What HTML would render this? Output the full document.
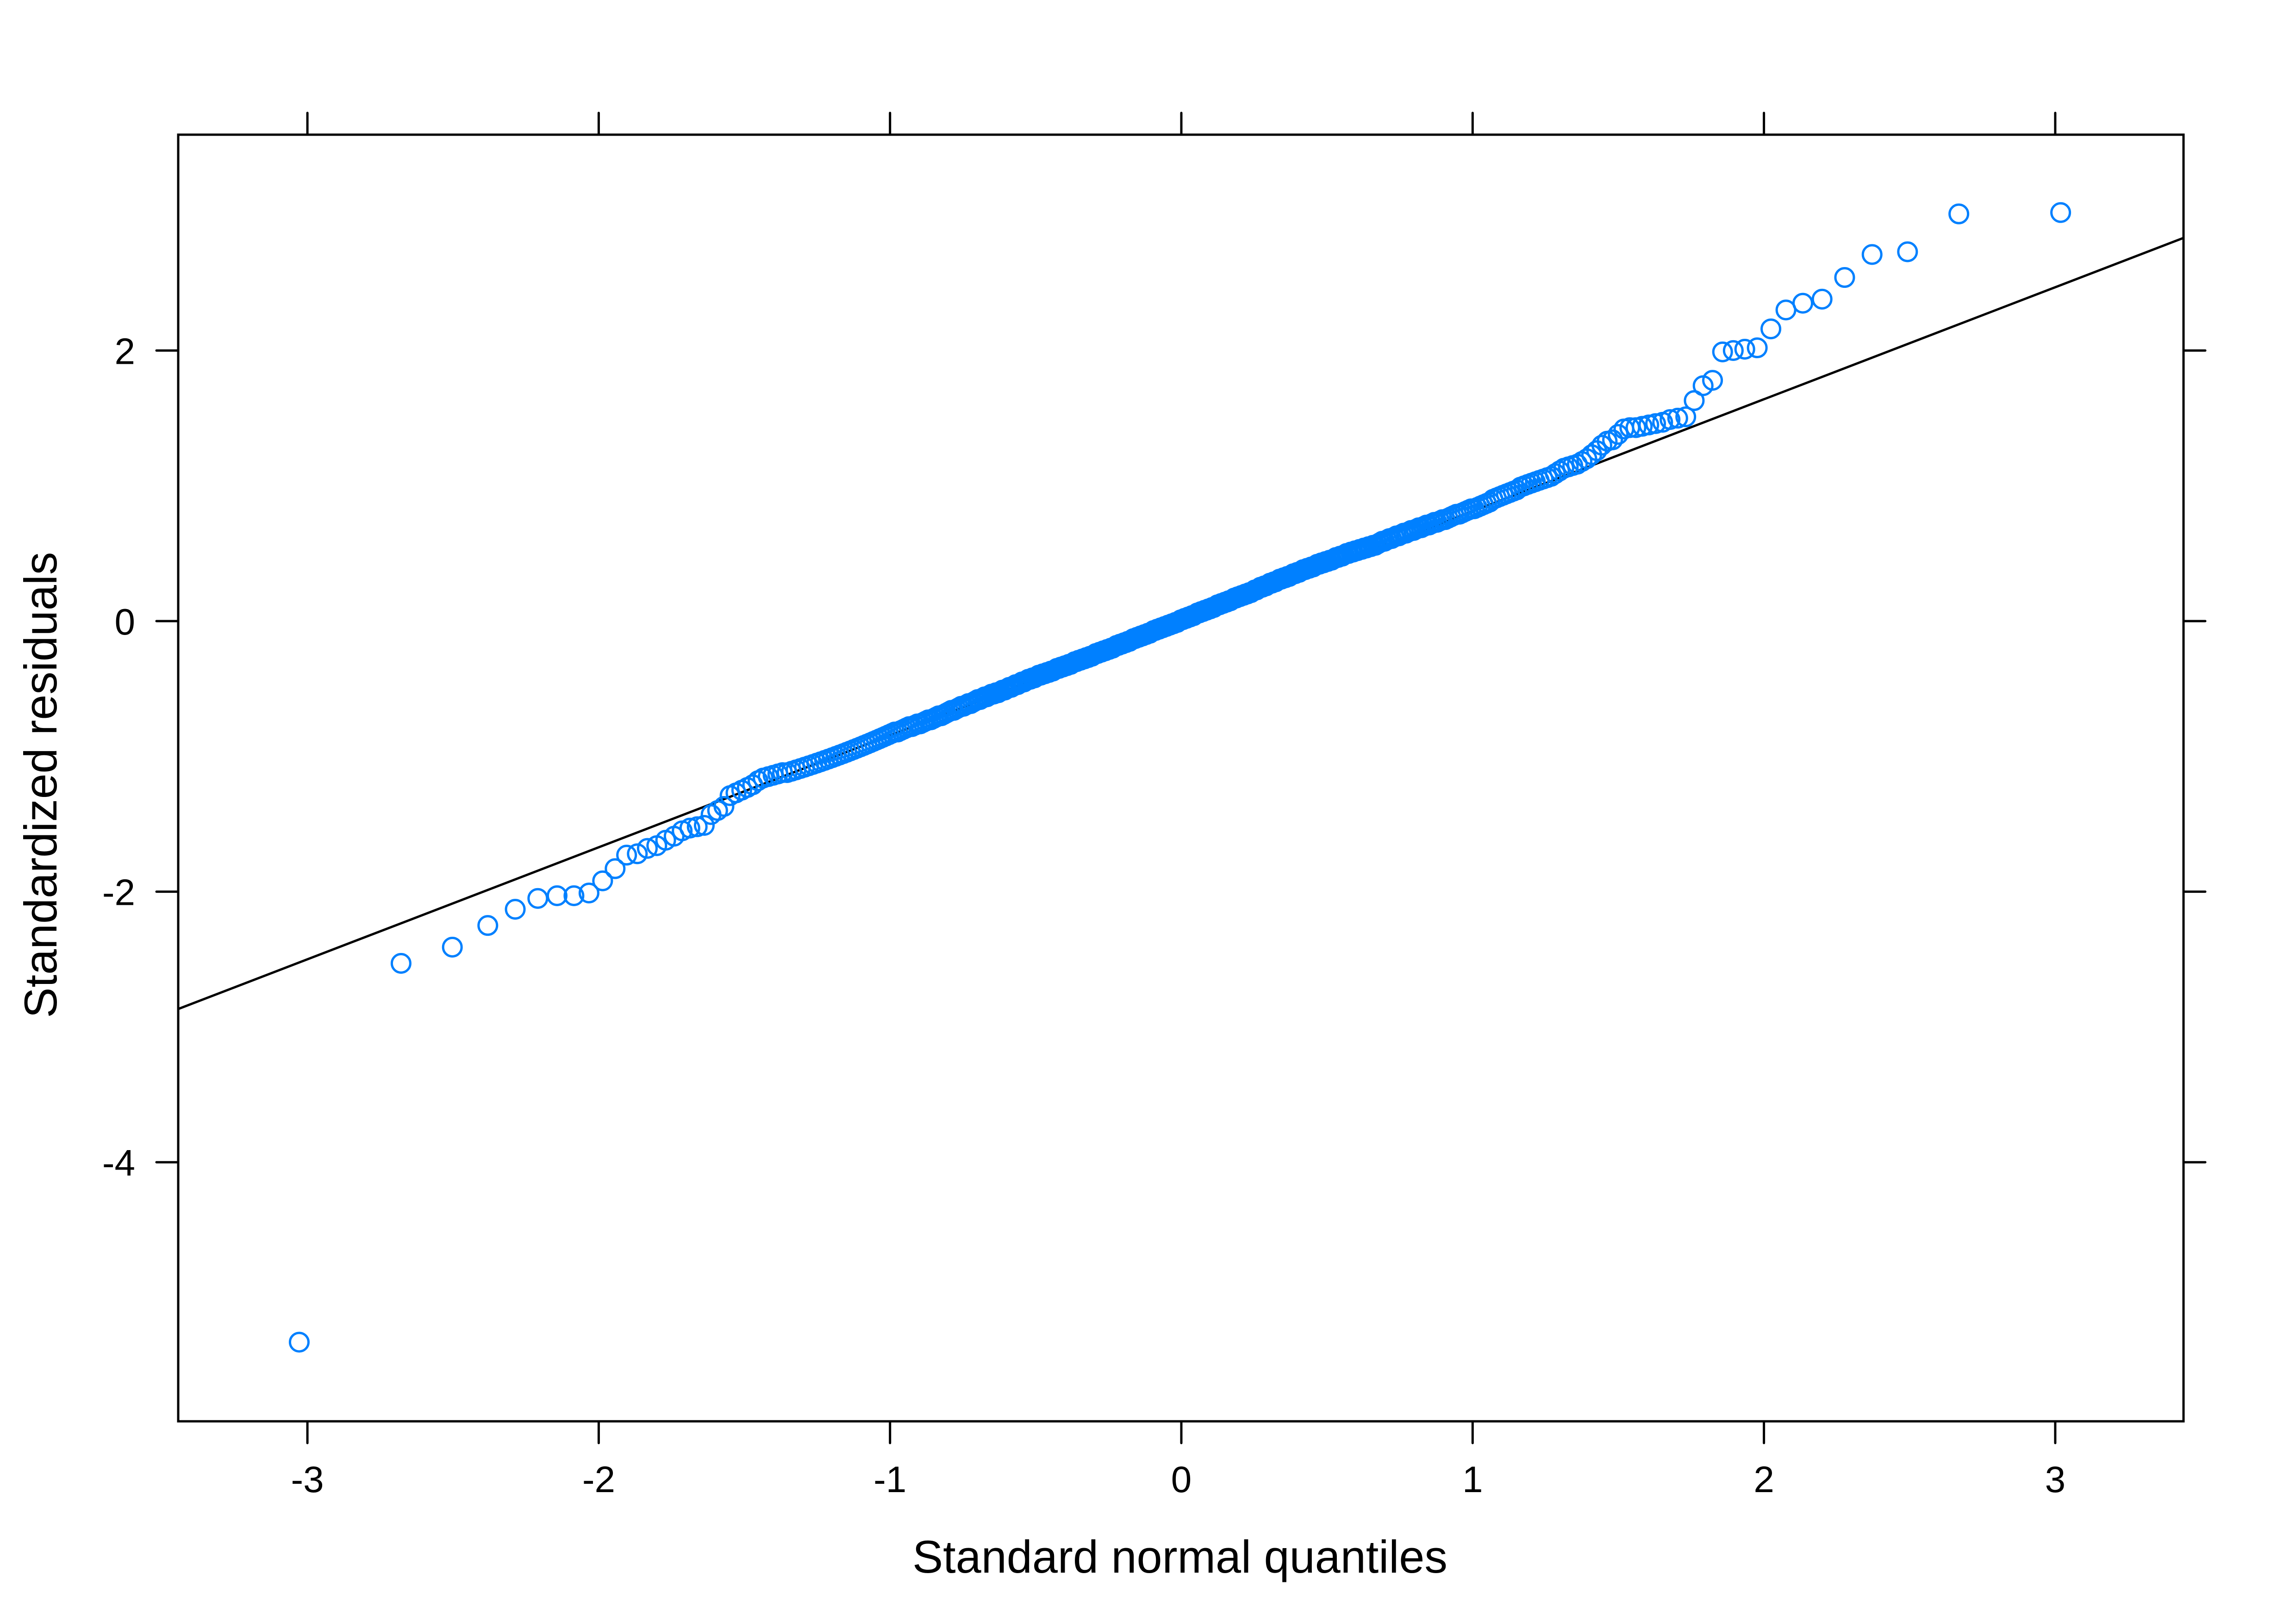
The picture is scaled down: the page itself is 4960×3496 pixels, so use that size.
<!DOCTYPE html>
<html><head><meta charset="utf-8"><style>
html,body{margin:0;padding:0;background:#fff;}
svg{display:block;}
text{font-family:"Liberation Sans",Arial,sans-serif;fill:#000;}
</style></head><body>
<svg id="chart" width="4960" height="3496" viewBox="0 0 4960 3496">
<rect x="0" y="0" width="4960" height="3496" fill="#fff"/>
<g id="axes"></g>
<g id="points"></g>
<rect x="385" y="291" width="4332" height="2780" fill="none" stroke="#000" stroke-width="5"/>
<text x="2549" y="3398" font-size="99" text-anchor="middle">Standard normal quantiles</text>
<text transform="translate(122,1696) rotate(-90)" font-size="99" text-anchor="middle">Standardized residuals</text>
</svg>
<script>
const xTicks = [-3, -2, -1, 0, 1, 2, 3];
const yTicks = [2, 0, -2, -4];
const lineIntercept = [-0.02];
const lineSlope = [0.828];
const residuals = [
-5.33,-2.53,-2.41,-2.25,-2.13,-2.05,-2.03,-2.03,-2.01,-1.92,
-1.83,-1.73,-1.72,-1.68,-1.66,-1.62,-1.59,-1.55,-1.53,-1.52,
-1.51,-1.43,-1.40,-1.37,-1.29,-1.27,-1.25,-1.23,-1.21,-1.18,
-1.16,-1.15,-1.14,-1.13,-1.12,-1.12,-1.11,-1.10,-1.09,-1.08,
-1.07,-1.06,-1.05,-1.04,-1.03,-1.02,-1.01,-1.00,-0.99,-0.98,
-0.97,-0.96,-0.95,-0.94,-0.93,-0.92,-0.91,-0.90,-0.89,-0.88,
-0.87,-0.86,-0.85,-0.84,-0.83,-0.82,-0.82,-0.81,-0.80,-0.79,
-0.78,-0.78,-0.77,-0.76,-0.76,-0.75,-0.74,-0.73,-0.73,-0.72,
-0.71,-0.70,-0.70,-0.69,-0.68,-0.67,-0.66,-0.66,-0.65,-0.64,
-0.63,-0.63,-0.62,-0.61,-0.61,-0.60,-0.59,-0.58,-0.58,-0.57,
-0.56,-0.56,-0.55,-0.54,-0.54,-0.53,-0.53,-0.52,-0.51,-0.51,
-0.50,-0.49,-0.49,-0.48,-0.47,-0.47,-0.46,-0.45,-0.45,-0.44,
-0.43,-0.43,-0.42,-0.42,-0.41,-0.40,-0.40,-0.39,-0.39,-0.38,
-0.38,-0.37,-0.37,-0.36,-0.35,-0.35,-0.34,-0.34,-0.33,-0.33,
-0.32,-0.32,-0.31,-0.30,-0.30,-0.29,-0.29,-0.28,-0.28,-0.27,
-0.27,-0.26,-0.26,-0.25,-0.24,-0.24,-0.23,-0.23,-0.22,-0.22,
-0.21,-0.21,-0.20,-0.20,-0.19,-0.18,-0.18,-0.17,-0.17,-0.16,
-0.16,-0.15,-0.15,-0.14,-0.13,-0.13,-0.12,-0.12,-0.11,-0.11,
-0.10,-0.10,-0.09,-0.09,-0.08,-0.07,-0.07,-0.06,-0.06,-0.05,
-0.05,-0.04,-0.04,-0.03,-0.03,-0.02,-0.02,-0.01,-0.01,0.00,
0.01,0.01,0.02,0.02,0.03,0.03,0.04,0.04,0.05,0.06,
0.06,0.07,0.07,0.08,0.08,0.09,0.09,0.10,0.10,0.11,
0.12,0.12,0.13,0.13,0.14,0.14,0.15,0.15,0.16,0.17,
0.17,0.18,0.18,0.19,0.19,0.20,0.20,0.21,0.21,0.22,
0.23,0.23,0.24,0.25,0.25,0.26,0.26,0.27,0.28,0.28,
0.29,0.29,0.30,0.31,0.31,0.32,0.32,0.33,0.33,0.34,
0.35,0.35,0.36,0.36,0.37,0.38,0.38,0.39,0.39,0.40,
0.40,0.41,0.42,0.42,0.43,0.43,0.44,0.44,0.45,0.45,
0.46,0.47,0.47,0.48,0.48,0.49,0.50,0.50,0.51,0.51,
0.52,0.52,0.53,0.53,0.54,0.54,0.55,0.55,0.56,0.56,
0.57,0.58,0.59,0.59,0.60,0.61,0.61,0.62,0.63,0.63,
0.64,0.65,0.65,0.66,0.67,0.67,0.68,0.69,0.69,0.70,
0.71,0.71,0.72,0.73,0.73,0.74,0.75,0.75,0.76,0.77,
0.78,0.79,0.79,0.80,0.81,0.82,0.83,0.83,0.84,0.85,
0.86,0.87,0.88,0.90,0.91,0.92,0.93,0.94,0.95,0.96,
0.97,0.99,1.00,1.01,1.02,1.03,1.04,1.05,1.06,1.07,
1.09,1.11,1.13,1.14,1.15,1.16,1.18,1.20,1.23,1.26,
1.30,1.33,1.34,1.38,1.42,1.43,1.43,1.44,1.45,1.46,
1.47,1.49,1.50,1.51,1.63,1.74,1.78,1.99,2.00,2.01,
2.02,2.16,2.30,2.35,2.38,2.54,2.71,2.73,3.01,3.02
];

const NS = 'http://www.w3.org/2000/svg';
const X0 = 2549, XU = 629.3, Y0 = 1342, YU = 292.3;
const L = 385, R = 4717, T = 291, B = 3071;
function sx(v){ return X0 + XU * v; }
function sy(v){ return Y0 - YU * v; }
function qnorm(p){
  const a=[-39.6968302866538,220.946098424521,-275.928510446969,138.357751867269,-30.6647980661472,2.50662827745924];
  const b=[-54.4760987982241,161.585836858041,-155.698979859887,66.8013118877197,-13.2806815528857];
  const c=[-0.00778489400243029,-0.322396458041136,-2.40075827716184,-2.54973253934373,4.37466414146497,2.93816398269878];
  const d=[0.00778469570904146,0.32246712907004,2.445134137143,3.75440866190742];
  const pl=0.02425;
  let q,r;
  if(p<pl){ q=Math.sqrt(-2*Math.log(p)); return (((((c[0]*q+c[1])*q+c[2])*q+c[3])*q+c[4])*q+c[5])/((((d[0]*q+d[1])*q+d[2])*q+d[3])*q+1); }
  if(p>1-pl){ q=Math.sqrt(-2*Math.log(1-p)); return -(((((c[0]*q+c[1])*q+c[2])*q+c[3])*q+c[4])*q+c[5])/((((d[0]*q+d[1])*q+d[2])*q+d[3])*q+1); }
  q=p-0.5; r=q*q;
  return (((((a[0]*r+a[1])*r+a[2])*r+a[3])*r+a[4])*r+a[5])*q/(((((b[0]*r+b[1])*r+b[2])*r+b[3])*r+b[4])*r+1);
}
function mk(tag, attrs, parent){
  const el = document.createElementNS(NS, tag);
  for (const k in attrs) el.setAttribute(k, attrs[k]);
  parent.appendChild(el);
  return el;
}
const axes = document.getElementById('axes');
xTicks.forEach(v => {
  const x = sx(v) + 3;
  const t1 = mk('line', {x1:x, y1:B, x2:x, y2:B+47, stroke:'#000', 'stroke-width':5, 'stroke-linecap':'round'}, axes);
  
  
  const t2 = mk('line', {x1:x, y1:T, x2:x, y2:T-47, stroke:'#000', 'stroke-width':5, 'stroke-linecap':'round'}, axes);
  
  
  const lb = mk('text', {x:x, y:3224, 'font-size':80, 'text-anchor':'middle'}, axes);
  lb.textContent = String(v);
  
  
});
yTicks.forEach(v => {
  const y = sy(v);
  const t1 = mk('line', {x1:L, y1:y, x2:L-47, y2:y, stroke:'#000', 'stroke-width':5, 'stroke-linecap':'round'}, axes);
  
  
  const t2 = mk('line', {x1:R, y1:y, x2:R+47, y2:y, stroke:'#000', 'stroke-width':5, 'stroke-linecap':'round'}, axes);
  
  
  const lb = mk('text', {x:292, y:y+29, 'font-size':80, 'text-anchor':'end'}, axes);
  lb.textContent = String(v);
  
  
});
const qL = (L - X0) / XU, qR = (R - X0) / XU;
const refLine = mk('line', {x1:sx(qL), y1:sy(lineIntercept[0]+lineSlope[0]*qL), x2:sx(qR), y2:sy(lineIntercept[0]+lineSlope[0]*qR), stroke:'#000', 'stroke-width':5}, axes);


const pts = document.getElementById('points');
const sorted = residuals.slice().sort((a,b)=>a-b);
const n = sorted.length;
sorted.forEach((r, i) => {
  const q = qnorm((i + 0.5) / n);
  const c = mk('circle', {cx:sx(q), cy:sy(r), r:20, fill:'none', stroke:'#0080ff', 'stroke-width':5}, pts);
  
  
});
</script>
</body></html>
